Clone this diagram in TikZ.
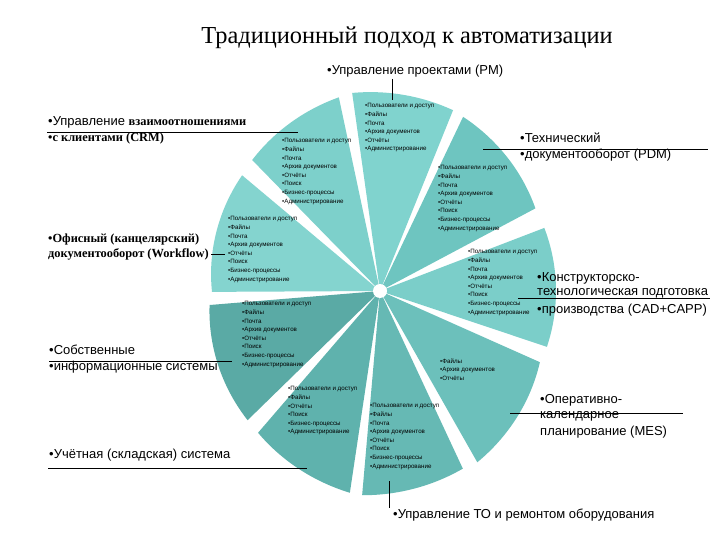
\documentclass[tikz,border=0pt]{standalone}
\usepackage{fontspec}
\setmainfont{Liberation Serif}
\setsansfont{Liberation Sans}
\newcommand\pieslice[5]{%
  \fill[#1] (380,291) -- plot[domain=#2:#4, samples=40, variable=\t]
    ({380+(#3+(#5-#3)*(\t-#2)/(#4-#2))*cos(\t)}, {291-(#3+(#5-#3)*(\t-#2)/(#4-#2))*sin(\t)}) -- cycle;}
\definecolor{cPM}{HTML}{80D3CE}
\definecolor{cCRM}{HTML}{7DD0CB}
\definecolor{cWF}{HTML}{84D4CF}
\definecolor{cPDM}{HTML}{6EC5C0}
\definecolor{cCAD}{HTML}{7BCEC9}
\definecolor{cMES}{HTML}{6CC0BB}
\definecolor{cTO}{HTML}{66B9B4}
\definecolor{cUCH}{HTML}{5FB2AD}
\definecolor{cOWN}{HTML}{5AAAA5}
\tikzset{
  lst/.style={font=\sffamily\fontsize{6.2}{8.6}\selectfont, align=left, anchor=north west, inner sep=0pt},
  lbl/.style={font=\sffamily\fontsize{13}{15}\selectfont, anchor=west, inner sep=0pt},
  slbl/.style={font=\bfseries\fontsize{12.4}{15}\selectfont, anchor=west, inner sep=0pt},
  conn/.style={line width=0.8pt, black}
}
\begin{document}
\begin{tikzpicture}[x=1pt,y=-1pt]
\useasboundingbox[fill=white] (0,0) rectangle (720,540);
% sectors
\pieslice{cCAD}{341.5}{176}{381}{176}
\pieslice{cPDM}{28}{176}{64.5}{193}
\pieslice{cPM}{68}{195}{98}{200}
\pieslice{cCRM}{102}{198}{134.3}{183}
\pieslice{cWF}{140}{180}{180.3}{168}
\pieslice{cOWN}{184.7}{171}{224.3}{185}
\pieslice{cUCH}{229.3}{187}{261.5}{204}
\pieslice{cTO}{265}{205}{295}{196}
\pieslice{cMES}{299.6}{197}{336}{175}
\fill[white] (380,291) circle (7);
% title
\node[font=\fontsize{24.4}{28}\selectfont, inner sep=0pt] (title) at (407,38) {Традиционный подход к автоматизации};
% lists
\node[lst] (lPM) at (365,103.5) {•Пользователи и доступ\\•Файлы\\•Почта\\•Архив документов\\•Отчёты\\•Администрирование};
\node[lst] (lCRM) at (282,138.5) {•Пользователи и доступ\\•Файлы\\•Почта\\•Архив документов\\•Отчёты\\•Поиск\\•Бизнес-процессы\\•Администрирование};
\node[lst] (lPDM) at (438,165.5) {•Пользователи и доступ\\•Файлы\\•Почта\\•Архив документов\\•Отчёты\\•Поиск\\•Бизнес-процессы\\•Администрирование};
\node[lst] (lWF) at (228,216.5) {•Пользователи и доступ\\•Файлы\\•Почта\\•Архив документов\\•Отчёты\\•Поиск\\•Бизнес-процессы\\•Администрирование};
\node[lst] (lCAD) at (468,249.5) {•Пользователи и доступ\\•Файлы\\•Почта\\•Архив документов\\•Отчёты\\•Поиск\\•Бизнес-процессы\\•Администрирование};
\node[lst] (lOWN) at (242,301.5) {•Пользователи и доступ\\•Файлы\\•Почта\\•Архив документов\\•Отчёты\\•Поиск\\•Бизнес-процессы\\•Администрирование};
\node[lst] (lUCH) at (288,386.5) {•Пользователи и доступ\\•Файлы\\•Отчёты\\•Поиск\\•Бизнес-процессы\\•Администрирование};
\node[lst] (lTO) at (370,403.5) {•Пользователи и доступ\\•Файлы\\•Почта\\•Архив документов\\•Отчёты\\•Поиск\\•Бизнес-процессы\\•Администрирование};
\node[lst] (lMES) at (440,358.5) {•Файлы\\•Архив документов\\•Отчёты};
% labels
\node[lbl] (tPM) at (327,71) {•Управление проектами (PM)};
\node[slbl, anchor=west] (tCRM1) at (48,122) {\mdseries\sffamily\fontsize{13}{15}\selectfont •Управление \bfseries\rmfamily\fontsize{12.4}{15}\selectfont взаимоотношениями};
\node[slbl] (tCRM2) at (48,139) {•с клиентами (CRM)};
\node[lbl] (tPDM1) at (520,138) {•Технический};
\node[lbl] (tPDM2) at (520,155) {•документооборот (PDM)};
\node[slbl] (tWF1) at (48,240) {•Офисный (канцелярский)};
\node[slbl] (tWF2) at (48,254) {документооборот (Workflow)};
\node[lbl] (tCAD1) at (537,278) {•Конструкторско-};
\node[lbl] (tCAD2) at (537,293) {технологическая подготовка};
\node[lbl] (tCAD3) at (537,310) {•производства (CAD+CAPP)};
\node[lbl] (tOWN1) at (49,350) {•Собственные};
\node[lbl] (tOWN2) at (49,367) {•информационные системы};
\node[lbl] (tMES1) at (540,400) {•Оперативно-};
\node[lbl] (tMES2) at (540,416) {календарное};
\node[lbl] (tMES3) at (540,432) {планирование (MES)};
\node[lbl] (tUCH) at (49,455) {•Учётная (складская) система};
\node[lbl] (tTO) at (393,515) {•Управление ТО и ремонтом оборудования};
% connectors
\coordinate (pmA) at (392,79); \coordinate (pmB) at (392,100);
\draw[conn] (pmA) -- (pmB);
\coordinate (crmA) at (47,132); \coordinate (crmB) at (298,132);
\draw[conn] (crmA) -- (crmB);
\coordinate (pdmA) at (483,149); \coordinate (pdmB) at (708,149);
\draw[conn] (pdmA) -- (pdmB);
\coordinate (wfA) at (211,254); \coordinate (wfB) at (225,254);
\draw[conn] (wfA) -- (wfB);
\coordinate (cadA) at (518,298); \coordinate (cadB) at (710,298);
\draw[conn] (cadA) -- (cadB);
\coordinate (ownA) at (49,361); \coordinate (ownB) at (232,361);
\draw[conn] (ownA) -- (ownB);
\coordinate (mesA) at (510,413); \coordinate (mesB) at (683,413);
\draw[conn] (mesA) -- (mesB);
\coordinate (uchA) at (48,468); \coordinate (uchB) at (307,468);
\draw[conn] (uchA) -- (uchB);
\coordinate (toA) at (389,481); \coordinate (toB) at (389,508);
\draw[conn] (toA) -- (toB);
\end{tikzpicture}
\end{document}
